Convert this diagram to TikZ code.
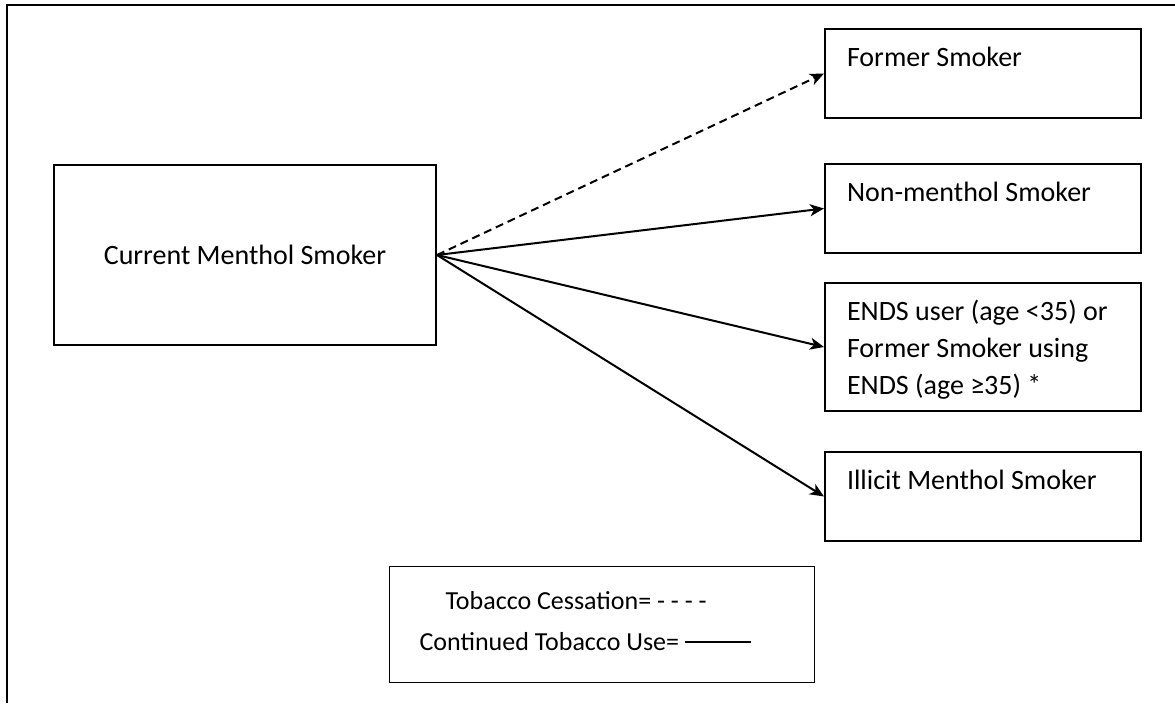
\documentclass[tikz,border=0pt]{standalone}
\usepackage{fontspec}
\setmainfont{Carlito}
\usetikzlibrary{arrows.meta}

\tikzset{
  statebox/.style={draw, line width=1pt, inner sep=0pt, font=\fontsize{14}{18.5}\selectfont},
  outcome/.style={statebox, anchor=north west, inner xsep=11pt, inner ysep=0pt,
    text width=136pt, align=flush left, text height=18.5pt, text depth=26pt},
  legendbox/.style={draw, line width=0.6pt, anchor=north west, inner xsep=15pt, inner ysep=0pt,
    text width=182.5pt, align=flush left, text height=21.5pt, text depth=36.5pt,
    font=\fontsize{13}{18.5}\selectfont},
  continued/.style={->, line width=1pt},
  cessation/.style={->, line width=1pt, dash pattern=on 4pt off 2.5pt}
}

\begin{document}
\begin{tikzpicture}[x=0.5pt, y=-0.5pt, >={Stealth[length=7pt,width=6pt,inset=2pt]}]
\useasboundingbox (0,0) rectangle (1175,703);

% outer frame (only left and top edges visible)
\draw[line width=1pt] (7,703) -- (7,5) -- (1175,5);

% starting state
\node[statebox, minimum width=191pt, minimum height=90pt] (current) at (245,255) {Current Menthol Smoker};

% outcomes
\node[outcome] (former) at (824,28) {Former Smoker};
\node[outcome] (nonmenthol) at (824,163) {Non-menthol Smoker};
\node[outcome, text depth=45.5pt] (ends) at (824,282) {ENDS user (age <35) or\\Former Smoker using\\ENDS (age ≥35) *};
\node[outcome] (illicit) at (824,451) {Illicit Menthol Smoker};

% transitions
\draw[cessation] (current.east) -- (former.west);
\draw[continued] (current.east) -- (nonmenthol.west);
\draw[continued] (current.east) -- (ends.west);
\draw[continued] (current.east) -- (illicit.west);

% legend
\node[legendbox] (legend) at (389,566) {\hspace*{13pt}Tobacco Cessation= - - - -\\[2pt]Continued Tobacco Use= \rule[0.28em]{33pt}{1pt}};
\end{tikzpicture}
\end{document}
